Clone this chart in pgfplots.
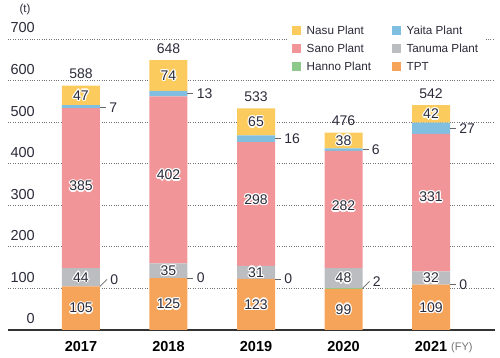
\documentclass[border=0pt]{standalone}
\usepackage{pgfplots}
\pgfplotsset{compat=1.18}
\usepackage{pgfplotstable}
\usepackage{fontspec}
\setmainfont{Liberation Sans}
\definecolor{cNasu}{HTML}{FBCB5D}
\definecolor{cYaita}{HTML}{80BFE0}
\definecolor{cSano}{HTML}{F29598}
\definecolor{cTanuma}{HTML}{BCBDC0}
\definecolor{cHanno}{HTML}{8DC98A}
\definecolor{cTPT}{HTML}{F6A45A}
\definecolor{txt}{HTML}{2B2B3A}
\pgfplotstableread{
x TPT Hanno Tanuma Sano Yaita Nasu
0 105 0 44 385 7 47
1 125 0 35 402 13 74
2 123 0 31 298 16 65
3 99 2 48 282 6 38
4 109 0 32 331 27 42
}\datatable
\newcommand{\sh}[3]{\rlap{\hspace*{#1}\raisebox{#2}{\textcolor{white}{#3}}}}
\newcommand{\vl}[1]{\sh{1.3pt}{0pt}{#1}\sh{-1.3pt}{0pt}{#1}\sh{0pt}{1.3pt}{#1}\sh{0pt}{-1.3pt}{#1}\sh{.92pt}{.92pt}{#1}\sh{-.92pt}{.92pt}{#1}\sh{.92pt}{-.92pt}{#1}\sh{-.92pt}{-.92pt}{#1}#1}
\newcommand{\C}[3]{\coordinate (#1) at (axis cs:#2,#3);}
\begin{document}
\begin{tikzpicture}
\path[use as bounding box] (-8pt,-28pt) rectangle (492pt,330pt);
\begin{axis}[
  clip=false,
  scale only axis,
  width=487pt, height=291pt,
  xmin=-0.834, xmax=4.731,
  ymin=0, ymax=700,
  ybar stacked, bar width=38pt,
  axis x line*=bottom, axis y line*=left,
  y axis line style={draw=none},
  x axis line style={line width=1.2pt, color=black!80},
  tick style={draw=none},
  xtick=data,
  xticklabels={2017,2018,2019,2020,2021},
  xticklabel style={font=\fontsize{14.5}{14.5}\selectfont\bfseries, inner sep=0pt, anchor=north, yshift=-11pt, text=black},
  ytick={0,100,...,700},
  yticklabel style={font=\fontsize{14.5}{14.5}\selectfont, inner sep=0pt, anchor=base east, xshift=27pt, yshift=6pt, text=txt},
  /pgf/number format/assume math mode=true,
  ymajorgrids,
  major grid style={dotted, line width=0.9pt, color=black!55},
  reverse legend,
  legend columns=2,
  legend cell align=left,
  legend style={draw=none, fill=white, at={(0.575,1.063)}, anchor=north west,
    font=\fontsize{11.7}{11.7}\selectfont, text=txt,
    /tikz/every odd column/.append style={column sep=3.5pt},
    /tikz/every even column/.append style={column sep=19pt},
    row sep=4pt, inner xsep=4pt, inner ysep=3pt},
  legend image code/.code={\fill[#1,draw=none] (0pt,-4.5pt) rectangle (9pt,4.5pt);},
]
\addplot[fill=cTPT, draw=none] table[x=x, y=TPT] {\datatable};
\addlegendentry{TPT}
\addplot[fill=cHanno, draw=none] table[x=x, y=Hanno] {\datatable};
\addlegendentry{Hanno Plant}
\addplot[fill=cTanuma, draw=none] table[x=x, y=Tanuma] {\datatable};
\addlegendentry{Tanuma Plant}
\addplot[fill=cSano, draw=none] table[x=x, y=Sano] {\datatable};
\addlegendentry{Sano Plant}
\addplot[fill=cYaita, draw=none] table[x=x, y=Yaita] {\datatable};
\addlegendentry{Yaita Plant}
\addplot[fill=cNasu, draw=none] table[x=x, y=Nasu] {\datatable};
\addlegendentry{Nasu Plant}
% label anchors
\C{a0}{0}{52.5}\C{a1}{0}{127}\C{a2}{0}{346}\C{a3}{0}{564.5}
\C{b0}{1}{62.5}\C{b1}{1}{143}\C{b2}{1}{373}\C{b3}{1}{612}
\C{c0}{2}{61.5}\C{c1}{2}{138.5}\C{c2}{2}{313}\C{c3}{2}{500.5}
\C{d0}{3}{49.5}\C{d1}{3}{125}\C{d2}{3}{298}\C{d3}{3}{456}
\C{e0}{4}{54.5}\C{e1}{4}{125}\C{e2}{4}{320}\C{e3}{4}{520}
\C{ta}{0}{588}\C{tb}{1}{649}\C{tc}{2}{533}\C{td}{3}{475}\C{te}{4}{541}
\C{ya}{0}{534.5}\C{yb}{1}{568.5}\C{yc}{2}{460}\C{yd}{3}{434}\C{ye}{4}{485.5}
\C{ha}{0}{105}\C{hb}{1}{125}\C{hc}{2}{123}\C{hd}{3}{100}\C{he}{4}{109}
\C{fy}{4}{0}
\coordinate (tl) at (rel axis cs:0,1);
\end{axis}
\tikzset{vlab/.style={font=\fontsize{14}{14}\selectfont, text=txt, inner sep=0pt},
  olab/.style={font=\fontsize{14}{14}\selectfont, text=txt, inner sep=0pt, anchor=west, xshift=3pt},
  lead/.style={draw=black!60, line width=0.7pt}}
\foreach \n/\t in {a0/105,a1/44,a2/385,a3/47,b0/125,b1/35,b2/402,b3/74,c0/123,c1/31,c2/298,c3/65,d0/99,d1/48,d2/282,d3/38,e0/109,e1/32,e2/331,e3/42}
  \node[vlab] at (\n) {\vl{\t}};
\foreach \n/\t in {ta/588,tb/648,tc/533,td/476,te/542}
  \node[vlab, anchor=south, yshift=6.5pt] at (\n) {\t};
\foreach \n/\t in {ya/7,yb/13,yc/16,yd/6,ye/27,hb/0,hc/0,he/0}
  \draw[lead] ([xshift=19pt]\n) -- ++(6pt,0pt) node[olab] {\t};
\foreach \n/\t in {ha/0,hd/2}
  \draw[lead] ([xshift=19pt]\n) -- ++(7pt,7pt) node[olab] {\t};
\node[anchor=west, inner sep=0pt, font=\fontsize{11}{11}\selectfont, text=black!55] at ([xshift=20pt, yshift=-18pt]fy) {(FY)};
\node[inner sep=0pt, font=\fontsize{11.5}{11.5}\selectfont, text=txt] at ([xshift=17pt, yshift=29pt]tl) {(t)};
\end{tikzpicture}
\end{document}
